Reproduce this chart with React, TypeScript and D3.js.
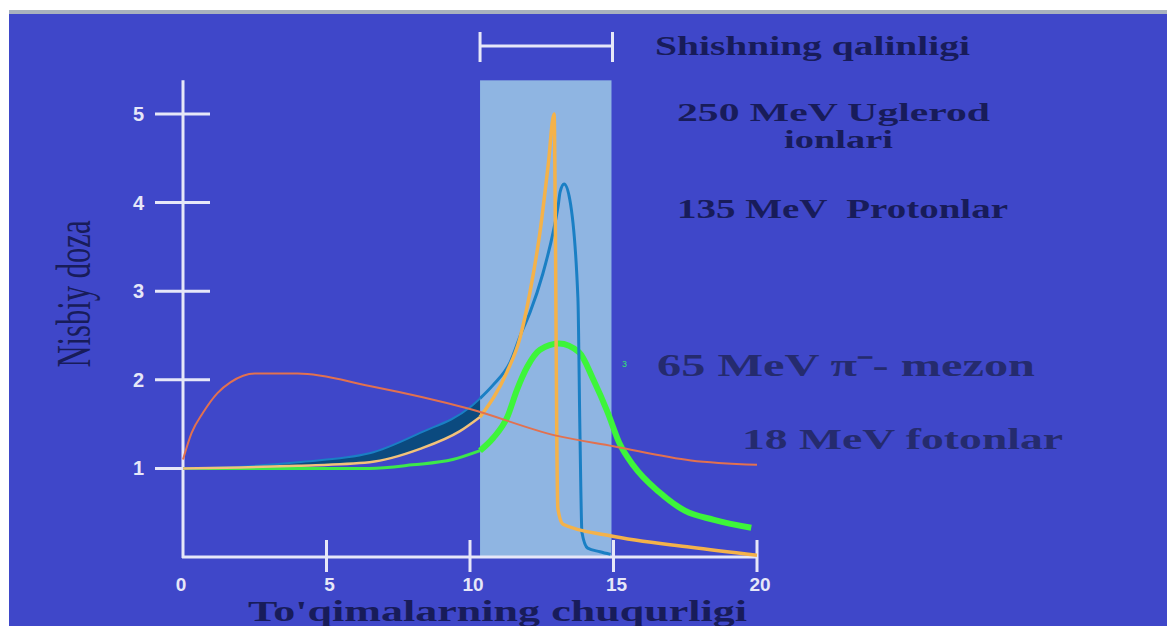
import * as d3 from "d3";

const W = 1167;
const H = 626;

// axis ticks
const xTickValues = [5, 10, 15, 20];
const xTickLabels = ["0", "5", "10", "15", "20"];
const yTickValues = [1, 2, 3, 4, 5];

// glass thickness band (depth)
const bandStart = 10.35;
const bandEnd = 14.93;
const axisTopDose = 5.38;

// 18 MeV photons
const photonDepth = [0, 0.3, 0.7, 1.2, 1.65, 2.5, 4, 6.5, 10, 13, 15, 17.7, 20];
const photonDose = [1.1, 1.4, 1.63, 1.85, 1.97, 2.07, 2.07, 1.93, 1.67, 1.37, 1.25, 1.09, 1.04];

// 65 MeV pi- mesons
const pionDepth = [0, 3, 6.5, 8, 9.4, 10.35, 10.8, 11.3, 11.64, 12, 12.44, 13.1, 13.8, 14.3, 14.8, 15.2, 15.7, 16.6, 17.5, 18.5, 19.8];
const pionDose = [1.0, 1.0, 1.0, 1.04, 1.1, 1.2, 1.34, 1.58, 1.89, 2.15, 2.34, 2.41, 2.31, 2.0, 1.63, 1.29, 1.03, 0.73, 0.52, 0.42, 0.33];

// 135 MeV protons
const protonDepth = [0, 2, 4, 6.5, 8.26, 10, 10.35, 10.8, 11.4, 11.8, 12.09, 12.54, 12.9, 13.07, 13.14, 13.28, 13.48, 13.76, 13.83, 13.9, 14.1, 14.53, 14.9];
const protonDose = [1.0, 1.02, 1.07, 1.17, 1.4, 1.69, 1.79, 1.94, 2.2, 2.54, 2.76, 3.2, 3.67, 3.96, 4.12, 4.21, 4.03, 2.92, 1.42, 0.28, 0.1, 0.06, 0.03];

// 250 MeV carbon ions
const carbonDepth = [0, 2, 4, 6.5, 8.26, 9.65, 10.35, 11.29, 11.74, 12.09, 12.44, 12.72, 12.93, 12.98, 13.02, 13.06, 13.24, 14.88, 17.7, 20];
const carbonDose = [1.0, 1.01, 1.03, 1.07, 1.22, 1.42, 1.58, 2.09, 2.47, 2.99, 3.67, 4.41, 5.0, 3.5, 1.5, 0.55, 0.37, 0.24, 0.11, 0.02];

type Pt = [number, number];
const zip = (xs: number[], ys: number[]): Pt[] => xs.map((d, i) => [d, ys[i]]);

export default function App() {
  const x = d3.scaleLinear().domain([0, 20]).range([183, 757]);
  const y = d3.scaleLinear().domain([0, 5]).range([557, 114]);

  const line = d3
    .line<Pt>()
    .x((d) => x(d[0]))
    .y((d) => y(d[1]))
    .curve(d3.curveMonotoneX);

  const photon = zip(photonDepth, photonDose);
  const pion = zip(pionDepth, pionDose);
  const proton = zip(protonDepth, protonDose);
  const carbon = zip(carbonDepth, carbonDose);

  const before = (d: Pt) => d[0] <= bandStart;
  const after = (d: Pt) => d[0] >= bandStart;

  // dark wedge between proton and carbon curves before the glass
  const upper = proton.filter((d) => d[0] >= 2 && before(d));
  const lower = carbon.filter((d) => d[0] >= 2 && before(d)).reverse();
  const wedge = line(upper) + "L" + (line(lower) || "").slice(1) + "Z";

  const axisCol = "#E6E7F8";
  const textCol = "#181C5A";
  const serif = "'Liberation Serif', 'Times New Roman', serif";
  const sans = "'Liberation Sans', Arial, sans-serif";

  return (
    <svg
      width={W}
      height={H}
      style={{ position: "absolute", left: 0, top: 0, display: "block" }}
    >
      <rect x={0} y={0} width={W} height={H} fill="#ffffff" />
      <rect x={9} y={10} width={W - 9} height={4} fill="#A9B2BE" />
      <rect x={9} y={14} width={W - 9} height={H - 14} fill="#3F47C9" />

      {/* glass band */}
      <rect
        x={x(bandStart)}
        y={y(axisTopDose)}
        width={x(bandEnd) - x(bandStart)}
        height={y(0) - y(axisTopDose)}
        fill="#8FB5E2"
      />

      {/* bracket */}
      <g stroke={axisCol} strokeWidth={3}>
        <line x1={x(bandStart)} x2={x(bandEnd) + 1} y1={46} y2={46} />
        <line x1={x(bandStart)} x2={x(bandStart)} y1={32} y2={62} />
        <line x1={x(bandEnd) + 1} x2={x(bandEnd) + 1} y1={32} y2={62} />
      </g>

      {/* axes */}
      <g stroke={axisCol} strokeWidth={3}>
        <line x1={x(0)} x2={x(0)} y1={y(axisTopDose)} y2={y(0) + 1} />
        <line x1={x(0) - 1} x2={x(20)} y1={y(0)} y2={y(0)} />
        {yTickValues.map((v) => (
          <line key={"yt" + v} x1={155} x2={210} y1={y(v)} y2={y(v)} />
        ))}
        {xTickValues.map((v) => (
          <line key={"xt" + v} x1={x(v)} x2={x(v)} y1={540} y2={572} />
        ))}
      </g>
      {yTickValues.map((v) => (
        <text
          key={"yl" + v}
          x={144}
          y={y(v) + 7}
          textAnchor="end"
          fontFamily={sans}
          fontWeight="bold"
          fontSize={20}
          fill={axisCol}
        >
          {v}
        </text>
      ))}
      {xTickLabels.map((t) => (
        <text
          key={"xl" + t}
          x={x(+t) + (t === "0" ? -2 : 3)}
          y={591}
          textAnchor="middle"
          fontFamily={sans}
          fontWeight="bold"
          fontSize={19}
          fill={axisCol}
        >
          {t}
        </text>
      ))}

      {/* curves */}
      <path d={wedge} fill="#0B4A7F" />
      <path d={line(pion.filter(before)) || ""} fill="none" stroke="#3CE84A" strokeWidth={3} />
      <path d={line(pion.filter(after)) || ""} fill="none" stroke="#3DF53A" strokeWidth={6} />
      <path d={line(proton.filter(before)) || ""} fill="none" stroke="#1A7FC4" strokeWidth={2} />
      <path d={line(proton.filter(after)) || ""} fill="none" stroke="#1A7FC4" strokeWidth={3} />
      <path d={line(carbon.filter(before)) || ""} fill="none" stroke="#F2C27A" strokeWidth={2.5} />
      <path d={line(carbon.filter(after)) || ""} fill="none" stroke="#F4B24A" strokeWidth={3.5} />
      <path d={line(photon) || ""} fill="none" stroke="#E2714F" strokeWidth={2} />

      {/* labels */}
      <g fontFamily={serif} fontWeight="bold" fill={textCol}>
        <text x={655} y={55} fontSize={27} textLength={315} lengthAdjust="spacingAndGlyphs">
          Shishning qalinligi
        </text>
        <text x={677} y={121} fontSize={26} textLength={313} lengthAdjust="spacingAndGlyphs">
          250 MeV Uglerod
        </text>
        <text x={784} y={148} fontSize={25} textLength={109} lengthAdjust="spacingAndGlyphs">
          ionlari
        </text>
        <text x={677} y={218} fontSize={27} textLength={331} lengthAdjust="spacingAndGlyphs" xmlSpace="preserve">
          135 MeV  Protonlar
        </text>
        <text x={657} y={376} fontSize={31} textLength={378} lengthAdjust="spacingAndGlyphs" fill="#252B6E">
          65 MeV π⁻- mezon
        </text>
        <text x={742} y={449} fontSize={30} textLength={321} lengthAdjust="spacingAndGlyphs" fill="#252B6E">
          18 MeV fotonlar
        </text>
        <text x={248} y={621} fontSize={29} textLength={499} lengthAdjust="spacingAndGlyphs">
          To'qimalarning chuqurligi
        </text>
        <text
          transform="translate(90,294) rotate(-90) scale(1,1.65)"
          textAnchor="middle"
          fontSize={29}
          fontWeight="normal"
          textLength={147}
          lengthAdjust="spacingAndGlyphs"
        >
          Nisbiy doza
        </text>
      </g>
      <text x={622} y={367} fontSize={11} fontFamily={sans} fill="#36D47A">
        з
      </text>
    </svg>
  );
}
